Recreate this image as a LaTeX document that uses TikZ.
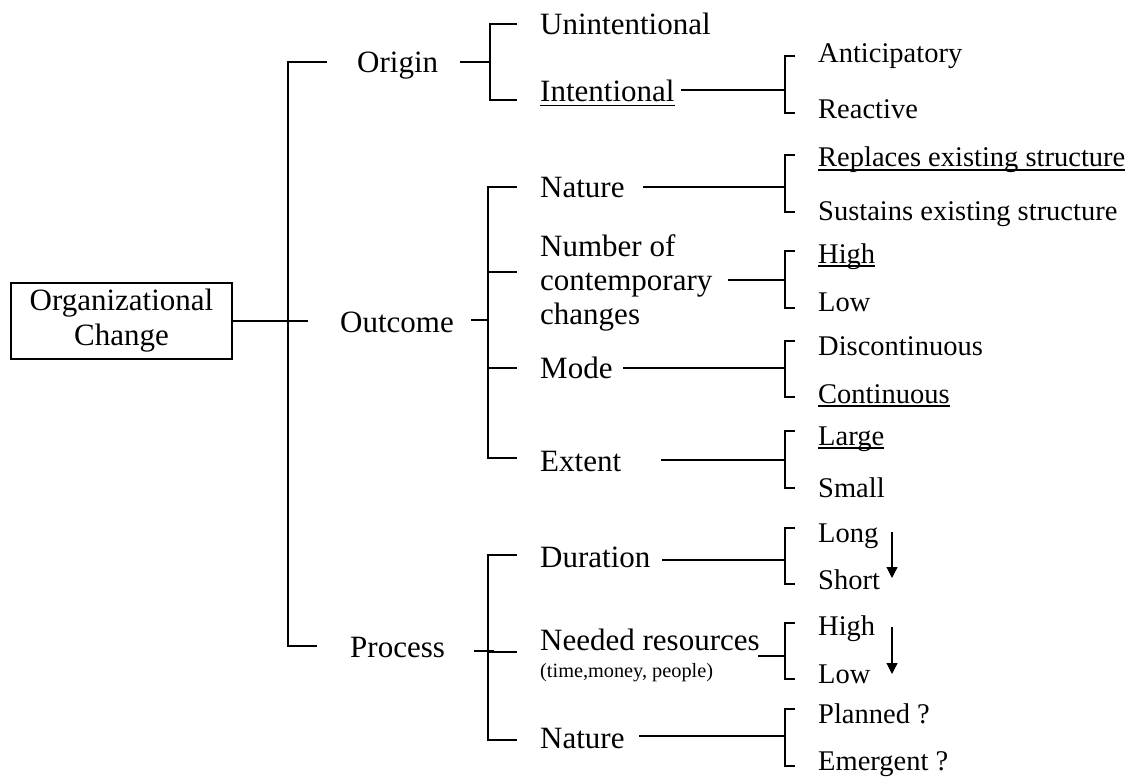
\documentclass[tikz,border=0pt]{standalone}
\usepackage{fontspec}
\setmainfont{Liberation Serif}
\usetikzlibrary{arrows.meta}

% word with a rule a little below its baseline
\newcommand\ulword[1]{\setbox0=\hbox{#1}\rlap{\rule[-0.14em]{\wd0}{0.055em}}\box0}

\begin{document}
\begin{tikzpicture}[x=1pt,y=-1pt,
  conn/.style={line width=1.2pt},
  bigtext/.style={anchor=base west,inner sep=0pt,font=\fontsize{31}{34}\selectfont},
  smalltext/.style={anchor=base west,inner sep=0pt,font=\fontsize{28.5}{32}\selectfont},
  notetext/.style={anchor=base west,inner sep=0pt,font=\fontsize{20.3}{24}\selectfont},
  trend/.style={line width=1.2pt,-{Triangle[width=11pt,length=11pt]}}]

\useasboundingbox (0,0) rectangle (1131,778);

% root
\node[draw,line width=1.2pt,minimum width=221pt,minimum height=76pt,inner sep=0pt,
      align=center,font=\fontsize{31}{35}\selectfont] (oc) at (121.5,321)
      {Organizational\\Change};

% first level
\node[bigtext] (origin)  at (357,73)  {Origin};
\node[bigtext] (outcome) at (340,332) {Outcome};
\node[bigtext] (process) at (350,657) {Process};

% second level
\node[bigtext] (unint)  at (540,35)  {Unintentional};
\node[bigtext] (intent) at (540,102) {\ulword{Intentional}};
\node[bigtext] (onat)   at (540,197) {Nature};
\node[bigtext] (num1)   at (540,256) {Number of};
\node[bigtext] (num2)   at (540,290) {contemporary};
\node[bigtext] (num3)   at (540,324) {changes};
\node[bigtext] (mode)   at (540,378) {Mode};
\node[bigtext] (extent) at (540,471) {Extent};
\node[bigtext] (dur)    at (540,567) {Duration};
\node[bigtext] (need)   at (540,650) {Needed resources};
\node[notetext] (needn) at (540,677) {(time,money, people)};
\node[bigtext] (pnat)   at (540,748) {Nature};

% third level
\node[smalltext] (antic) at (818,63)  {Anticipatory};
\node[smalltext] (react) at (818,119) {Reactive};
\node[smalltext] (repl)  at (818,167) {\ulword{Replaces existing structure}};
\node[smalltext] (sust)  at (818,220) {Sustains existing structure};
\node[smalltext] (nhigh) at (818,263) {\ulword{High}};
\node[smalltext] (nlow)  at (818,311) {Low};
\node[smalltext] (disc)  at (818,355) {Discontinuous};
\node[smalltext] (cont)  at (818,403) {\ulword{Continuous}};
\node[smalltext] (large) at (818,445) {\ulword{Large}};
\node[smalltext] (small) at (818,497) {Small};
\node[smalltext] (long)  at (818,542) {Long};
\node[smalltext] (short) at (818,589) {Short};
\node[smalltext] (rhigh) at (818,635) {High};
\node[smalltext] (rlow)  at (818,683) {Low};
\node[smalltext] (plan)  at (818,723) {Planned ?};
\node[smalltext] (emer)  at (818,770) {Emergent ?};

% trunk from the root
\coordinate (tTop) at (288,62);
\coordinate (tBot) at (288,646);
\draw[conn] (oc.east) -- (308,321);
\draw[conn] (327,62) -- (tTop) -- (tBot) -- (317,646);

% origin
\coordinate (bO) at (490,62);
\draw[conn] (460,62) -- (bO);
\draw[conn] (517,24) -- (490,24) -- (490,100) -- (517,100);
\coordinate (bI) at (785,90);
\draw[conn] (681,90) -- (bI);
\draw[conn] (795,56) -- (785,56) -- (785,113) -- (795,113);

% outcome
\coordinate (bOut) at (488,320);
\draw[conn] (471,320) -- (bOut);
\draw[conn] (517,187) -- (488,187) -- (488,458) -- (517,458);
\draw[conn] (488,272) -- (517,272);
\draw[conn] (488,368) -- (517,368);

\draw[conn] (643,187) -- (785,187);
\draw[conn] (795,155) -- (785,155) -- (785,212) -- (795,212);
\draw[conn] (728,280) -- (785,280);
\draw[conn] (795,251) -- (785,251) -- (785,308) -- (795,308);
\draw[conn] (623,368) -- (785,368);
\draw[conn] (795,341) -- (785,341) -- (785,397) -- (795,397);
\draw[conn] (661,460) -- (785,460);
\draw[conn] (795,431) -- (785,431) -- (785,488) -- (795,488);

% process
\draw[conn] (474,651) -- (494,651);
\draw[conn] (517,555) -- (488,555) -- (488,740) -- (517,740);
\draw[conn] (488,652) -- (517,652);

\draw[conn] (662,560) -- (785,560);
\draw[conn] (795,528) -- (785,528) -- (785,584) -- (795,584);
\draw[conn] (758,656) -- (785,656);
\draw[conn] (795,623) -- (785,623) -- (785,679) -- (795,679);
\draw[conn] (639,736) -- (785,736);
\draw[conn] (795,709) -- (785,709) -- (785,766) -- (795,766);

% direction arrows
\coordinate (a1s) at (892,532);
\coordinate (a1e) at (892,578);
\coordinate (a2s) at (892,627);
\coordinate (a2e) at (892,674);
\draw[trend] (a1s) -- (a1e);
\draw[trend] (a2s) -- (a2e);

\end{tikzpicture}
\end{document}
